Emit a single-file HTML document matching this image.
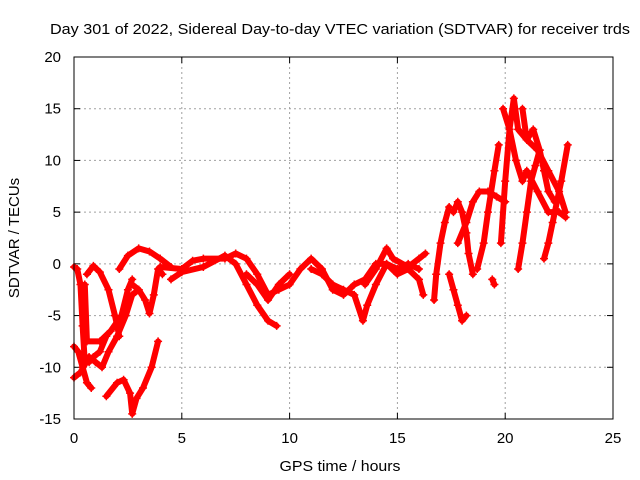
<!DOCTYPE html>
<html><head><meta charset="utf-8"><style>
body{margin:0;background:#fff;}
svg{display:block;font-family:"Liberation Sans",sans-serif;}
</style></head><body>
<svg id="chart" width="640" height="480">
<text x="340" y="34" font-size="15" text-anchor="middle" textLength="580" lengthAdjust="spacingAndGlyphs">Day 301 of 2022, Sidereal Day-to-day VTEC variation (SDTVAR) for receiver trds</text>
<text x="340" y="471" font-size="15" text-anchor="middle" textLength="121" lengthAdjust="spacingAndGlyphs">GPS time / hours</text>
<text x="19" y="238" font-size="15" text-anchor="middle" transform="rotate(-90 19 238)">SDTVAR / TECUs</text>
<g id="grid"></g><g id="marks"></g>
<rect x="74" y="57" width="539" height="362" fill="none" stroke="#000" stroke-width="1"/>
</svg>
<script>
const xTicks=[0,5,10,15,20,25];
const yTicks=[-15,-10,-5,0,5,10,15,20];
const track1=[[0,-0.3],[0.15,-0.5],[0.3,-2],[0.4,-6],[0.5,-9.5],[0.7,-9.5],[0.9,-9],[1.2,-8.5],[1.5,-7]];
const track2=[[0,-8],[0.2,-8.5],[0.4,-10],[0.6,-11.5],[0.8,-12]];
const track3=[[0,-11],[0.3,-10.5],[0.7,-9],[1,-9.5],[1.3,-10],[1.6,-8.5],[2,-7],[2.4,-5],[2.7,-3],[3,-2.5]];
const track4=[[0.5,-2],[0.6,-7.5],[1.2,-7.5],[1.7,-6.5],[2.2,-5],[2.5,-2.5],[2.7,-1.5]];
const track5=[[0.6,-1],[0.9,-0.2],[1.2,-0.8],[1.6,-2.5],[1.9,-5],[2.1,-7]];
const track6=[[2.1,-0.5],[2.5,0.8],[3,1.5],[3.5,1.2],[4,0.5],[4.5,-0.3]];
const track7=[[1.5,-12.8],[2,-11.5],[2.3,-11.2],[2.6,-12.5],[2.7,-14.5],[2.9,-13],[3.2,-12],[3.6,-10],[3.9,-7.5]];
const track8=[[2.7,-2],[3,-2.5],[3.3,-3.5],[3.5,-4.8],[3.7,-3],[3.9,-0.5],[4.1,-1]];
const track9=[[4,-0.3],[5,-0.5],[5.5,0.3],[6,0.5],[7,0.5],[7.5,1],[8,0.5],[8.5,-1],[9,-3],[9.5,-2.5],[10,-2],[10.5,-0.5],[11,0.5],[11.5,-0.5],[12,-2.5],[12.5,-3],[13,-2],[13.5,-1.5],[14,0],[14.5,0],[15,-0.5],[15.5,0],[16,-0.5]];
const track10=[[4.5,-1.5],[5,-0.8],[6,-0.3],[7,0.8],[7.5,0],[8,-2],[8.5,-4],[9,-5.5],[9.4,-6]];
const track11=[[8,-1],[8.5,-2],[9,-3.5],[9.5,-2],[10,-1]];
const track12=[[11,-0.5],[11.5,-1],[12,-2],[12.5,-2.5],[13,-3],[13.4,-5.5],[13.6,-4],[14,-2],[14.5,0],[15,-1],[15.5,-0.5],[16,-1.5],[16.2,-3]];
const track13=[[13.5,-2],[14,-0.5],[14.5,1.5],[14.8,0.5],[15.5,-0.3],[16,0.5],[16.3,1]];
const track14=[[16.7,-3.5],[16.8,-1],[17,2],[17.2,4],[17.4,5.5]];
const track15=[[17.4,-1],[17.6,-2.5],[17.8,-4],[18,-5.5],[18.2,-5]];
const track16=[[17.6,5],[17.8,6],[18,5],[18.2,3],[18.3,1],[18.5,-1]];
const track17=[[17.8,2],[18.2,4],[18.5,6],[18.8,7],[19.2,7],[19.6,6.5],[20,6]];
const track18=[[18.7,-0.5],[19,2],[19.2,5],[19.5,9],[19.7,11.5]];
const track19=[[19.4,-1.5],[19.5,-2]];
const track20=[[19.8,2],[20,8],[20.2,13],[20.4,16],[20.6,13],[21,12],[21.5,11],[22,9],[22.5,7],[22.8,5]];
const track21=[[19.9,15],[20.2,13],[20.5,10],[20.8,8],[21,9],[21.5,7],[22,5],[22.5,5],[22.8,4.5]];
const track22=[[20.6,-0.5],[20.8,2],[21,5],[21.2,8],[21.4,9.5],[21.6,11]];
const track23=[[21.8,0.5],[22,2],[22.2,4],[22.4,6],[22.6,8],[22.9,11.5]];
const track24=[[20.8,15],[21,12],[21.3,13],[21.6,11],[21.8,9],[22,7],[22.3,6]];
const tracks=[track1,track2,track3,track4,track5,track6,track7,track8,track9,track10,track11,track12,track13,track14,track15,track16,track17,track18,track19,track20,track21,track22,track23,track24];

const X=t=>74+(t-0)*539/25;
const Y=v=>419-(v+15)*362/35;
const NS="http://www.w3.org/2000/svg";
const grid=document.getElementById('grid'), marks=document.getElementById('marks');
function mk(tag,attrs,parent){const e=document.createElementNS(NS,tag);for(const k in attrs)e.setAttribute(k,attrs[k]);parent.appendChild(e);return e;}
xTicks.forEach(t=>{
  const x=X(t);
  if(t>0&&t<25){const g=mk('line',{x1:x,x2:x,y1:57,y2:419,stroke:'#a0a0a0','stroke-dasharray':'2,3'},grid);
  
  }
  mk('line',{x1:x,x2:x,y1:419,y2:413,stroke:'#000'},grid);
  mk('line',{x1:x,x2:x,y1:57,y2:63,stroke:'#000'},grid);
  const l=mk('text',{x:x,y:443,'font-size':15,'text-anchor':'middle'},grid);l.textContent=t;
  
  
});
yTicks.forEach(v=>{
  const y=Y(v);
  if(v>-15&&v<20){const g=mk('line',{x1:74,x2:613,y1:y,y2:y,stroke:'#a0a0a0','stroke-dasharray':'2,3'},grid);
  
  }
  mk('line',{x1:74,x2:80,y1:y,y2:y,stroke:'#000'},grid);
  mk('line',{x1:613,x2:607,y1:y,y2:y,stroke:'#000'},grid);
  const l=mk('text',{x:61,y:y+5,'font-size':15,'text-anchor':'end'},grid);l.textContent=v;
  
  
});
tracks.forEach(tr=>{
  const p=mk('polyline',{points:tr.map(d=>X(d[0])+','+Y(d[1])).join(' '),fill:'none',stroke:'#f00','stroke-width':6,'stroke-linejoin':'round','stroke-linecap':'round'},marks);
  
  
  tr.forEach(d=>{
    const x=X(d[0]),y=Y(d[1]);
    const m=mk('path',{d:`M${x-4},${y}H${x+4}M${x},${y-4}V${y+4}`,stroke:'#f00','stroke-width':1.5},marks);
    
    
  });
});
</script>
</body></html>
